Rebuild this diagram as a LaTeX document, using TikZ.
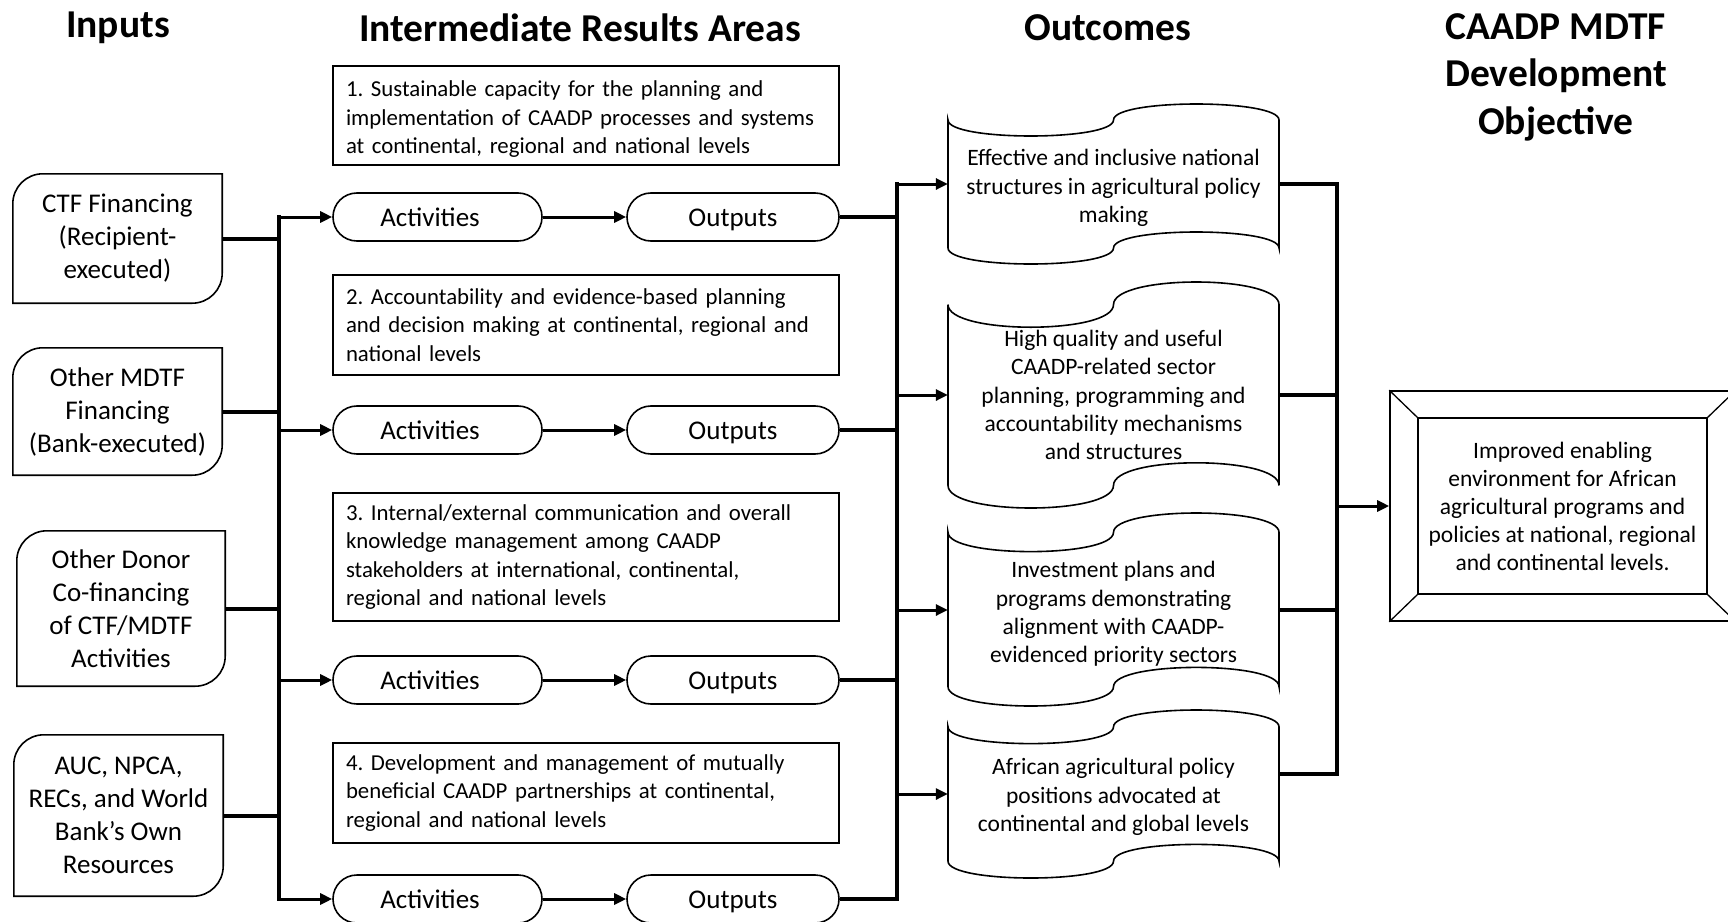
\documentclass[tikz,border=0pt]{standalone}
\usepackage{fontspec}
\setmainfont{Carlito}
\usetikzlibrary{arrows.meta,calc}
\frenchspacing

\newcommand{\diagbox}[1]{%
  \draw[boxline] ([yshift=-30pt]#1.north west) .. controls ([yshift=-13.4pt]#1.north west) and ([xshift=13.4pt]#1.north west) .. ([xshift=30pt]#1.north west)
    -- (#1.north east) -- ([yshift=30pt]#1.south east)
    .. controls ([yshift=13.4pt]#1.south east) and ([xshift=-13.4pt]#1.south east) .. ([xshift=-30pt]#1.south east)
    -- (#1.south west) -- cycle;}

\newcommand{\tapeshape}[4]{%
  \pgfmathsetmacro\tb{(#4-#2)/10}%
  \pgfmathsetmacro\tk{4/3*\tb}%
  \pgfmathsetmacro\tm{(#1+#3)/2}%
  \draw[boxline] (#1,{#2+\tb}) .. controls (#1,{#2+\tb+\tk}) and (\tm,{#2+\tb+\tk}) .. (\tm,{#2+\tb})
    .. controls (\tm,{#2+\tb-\tk}) and (#3,{#2+\tb-\tk}) .. (#3,{#2+\tb})
    -- (#3,{#4-\tb})
    .. controls (#3,{#4-\tb-\tk}) and (\tm,{#4-\tb-\tk}) .. (\tm,{#4-\tb})
    .. controls (\tm,{#4-\tb+\tk}) and (#1,{#4-\tb+\tk}) .. (#1,{#4-\tb}) -- cycle;}

\begin{document}
\begin{tikzpicture}[x=1pt,y=-1pt,
  boxline/.style={draw=black, line width=1.6pt},
  hdr/.style={font=\bfseries\fontsize{39.5}{47.5}\selectfont, align=center, inner sep=0pt},
  intext/.style={align=center, font=\fontsize{27}{33}\selectfont, inner sep=0pt, minimum width=209pt},
  irbox/.style={draw, line width=1.3pt, align=left, text width=480pt, inner xsep=13pt, inner ysep=0pt, minimum height=100pt, font=\fontsize{22.8}{28.5}\selectfont},
  pill/.style={draw, line width=1.6pt, rounded corners=23.9pt, minimum height=48pt, inner sep=0pt, text height=21pt, text depth=3pt, font=\fontsize{27}{32}\selectfont},
  outtext/.style={align=center, font=\fontsize{23.5}{28.3}\selectfont, inner sep=0pt, minimum width=331pt},
  objbox/.style={draw, line width=1.6pt, align=center, font=\fontsize{23.5}{28}\selectfont, inner sep=0pt, minimum width=345pt, minimum height=230pt},
  trunk/.style={line width=4.5pt, line cap=rect},
  conn/.style={line width=4pt},
  arr/.style={line width=3pt, -{Triangle[length=12pt,width=11pt]}}
]
\useasboundingbox (0,0) rectangle (1728,921);
\clip (0,0) rectangle (1728,921);

% headers
\node[hdr] (hin) at (118,28) {Inputs};
\node[hdr] (hir) at (580,28) {Intermediate Results Areas};
\node[hdr] (hout) at (1108,28) {Outcomes};
\node[hdr] (hobj) at (1556,77) {CAADP MDTF\\Development\\Objective};

% inputs
\node[intext, minimum height=129pt] (ctf) at (117.5,238.5) {CTF Financing\\(Recipient-\\executed)};
\node[intext, minimum height=127pt] (mdtf) at (117.5,411.5) {Other MDTF\\Financing\\(Bank-executed)};
\node[intext, minimum width=208pt, minimum height=155pt] (donor) at (121,608.5) {Other Donor\\Co-financing\\of CTF/MDTF\\Activities};
\node[intext, minimum height=161pt] (auc) at (118.5,815.5) {AUC, NPCA,\\RECs, and World\\Bank’s Own\\Resources};
\diagbox{ctf}
\diagbox{mdtf}
\diagbox{donor}
\diagbox{auc}

% intermediate result areas
\node[irbox, minimum height=99pt] (ir1) at (586,115.5) {\mbox{\rule{0pt}{23.7pt}1. Sustainable capacity for the planning and}\\\mbox{implementation of CAADP processes and systems}\\\mbox{at continental, regional and national levels}};
\node[irbox] (ir2) at (586,325) {\mbox{2. Accountability and evidence-based planning}\\\mbox{and decision making at continental, regional and}\\\mbox{national levels}};
\node[irbox, minimum height=128pt] (ir3) at (586,557) {\mbox{3. Internal/external communication and overall}\\\mbox{knowledge management among CAADP}\\\mbox{stakeholders at international, continental,}\\\mbox{regional and national levels}};
\node[irbox] (ir4) at (586,793) {\mbox{4. Development and management of mutually}\\\mbox{beneficial CAADP partnerships at continental,}\\\mbox{regional and national levels}};

% activities and outputs
\node[pill, minimum width=209pt] (a1) at (437.5,217) {Activities\kern15pt\null};
\node[pill, minimum width=212pt] (p1) at (733,217) {Outputs};
\node[pill, minimum width=209pt] (a2) at (437.5,430) {Activities\kern15pt\null};
\node[pill, minimum width=212pt] (p2) at (733,430) {Outputs};
\node[pill, minimum width=209pt] (a3) at (437.5,680) {Activities\kern15pt\null};
\node[pill, minimum width=212pt] (p3) at (733,680) {Outputs};
\node[pill, minimum width=209pt] (a4) at (437.5,899) {Activities\kern15pt\null};
\node[pill, minimum width=212pt] (p4) at (733,899) {Outputs};

% outcomes
\tapeshape{948}{104}{1279}{264}
\tapeshape{948}{282}{1279}{508}
\tapeshape{948}{513}{1279}{706}
\tapeshape{948}{710}{1279}{878}
\node[outtext, minimum height=160pt] (o1) at (1113.5,184) {\rule{0pt}{24.5pt}Effective and inclusive national\\structures in agricultural policy\\making};
\node[outtext, minimum height=226pt] (o2) at (1113.5,395) {High quality and useful\\CAADP-related sector\\planning, programming and\\accountability mechanisms\\and structures};
\node[outtext, minimum height=193pt] (o3) at (1113.5,610) {\rule{0pt}{24.5pt}Investment plans and\\programs demonstrating\\alignment with CAADP-\\evidenced priority sectors};
\node[outtext, minimum height=168pt] (o4) at (1113.5,794) {\rule{0pt}{22.5pt}African agricultural policy\\positions advocated at\\continental and global levels};

% objective
\node[objbox] (obj) at (1562.5,506) {Improved enabling\\environment for African\\agricultural programs and\\policies at national, regional\\and continental levels.};
\draw[line width=1.6pt] ([shift={(29pt,-28pt)}]obj.north west) rectangle ([shift={(-29pt,28pt)}]obj.south east);
\draw[line width=1.3pt] (obj.north west) -- ([shift={(29pt,-28pt)}]obj.north west);
\draw[line width=1.3pt] (obj.north east) -- ([shift={(-29pt,-28pt)}]obj.north east);
\draw[line width=1.3pt] (obj.south west) -- ([shift={(29pt,28pt)}]obj.south west);
\draw[line width=1.3pt] (obj.south east) -- ([shift={(-29pt,28pt)}]obj.south east);

% trunks
\coordinate (t1) at (279,0);
\coordinate (t2) at (897,0);
\coordinate (t3) at (1337,0);
\coordinate (o4r) at ([yshift=20pt]o4.east);

% inputs to trunk 1
\foreach \n in {ctf,mdtf,donor,auc} {\draw[conn] (\n.east) -- (\n.east -| t1);}
\draw[trunk] (a1.west -| t1) -- (a4.west -| t1);
\foreach \i in {1,2,3,4} {
  \draw[arr] (a\i.west -| t1) -- (a\i.west);
  \draw[arr] (a\i) -- (p\i);
  \draw[conn] (p\i.east) -- (p\i.east -| t2);
}
\draw[trunk] (o1.west -| t2) -- (p4.east -| t2);
\foreach \i in {1,2,3,4} {\draw[arr] (o\i.west -| t2) -- (o\i.west);}
\foreach \i in {1,2,3} {\draw[conn] (o\i.east) -- (o\i.east -| t3);}
\draw[conn] (o4r) -- (o4r -| t3);
\draw[trunk] (o1.east -| t3) -- (o4r -| t3);
\draw[arr] (obj.west -| t3) -- (obj.west);
\end{tikzpicture}
\end{document}
